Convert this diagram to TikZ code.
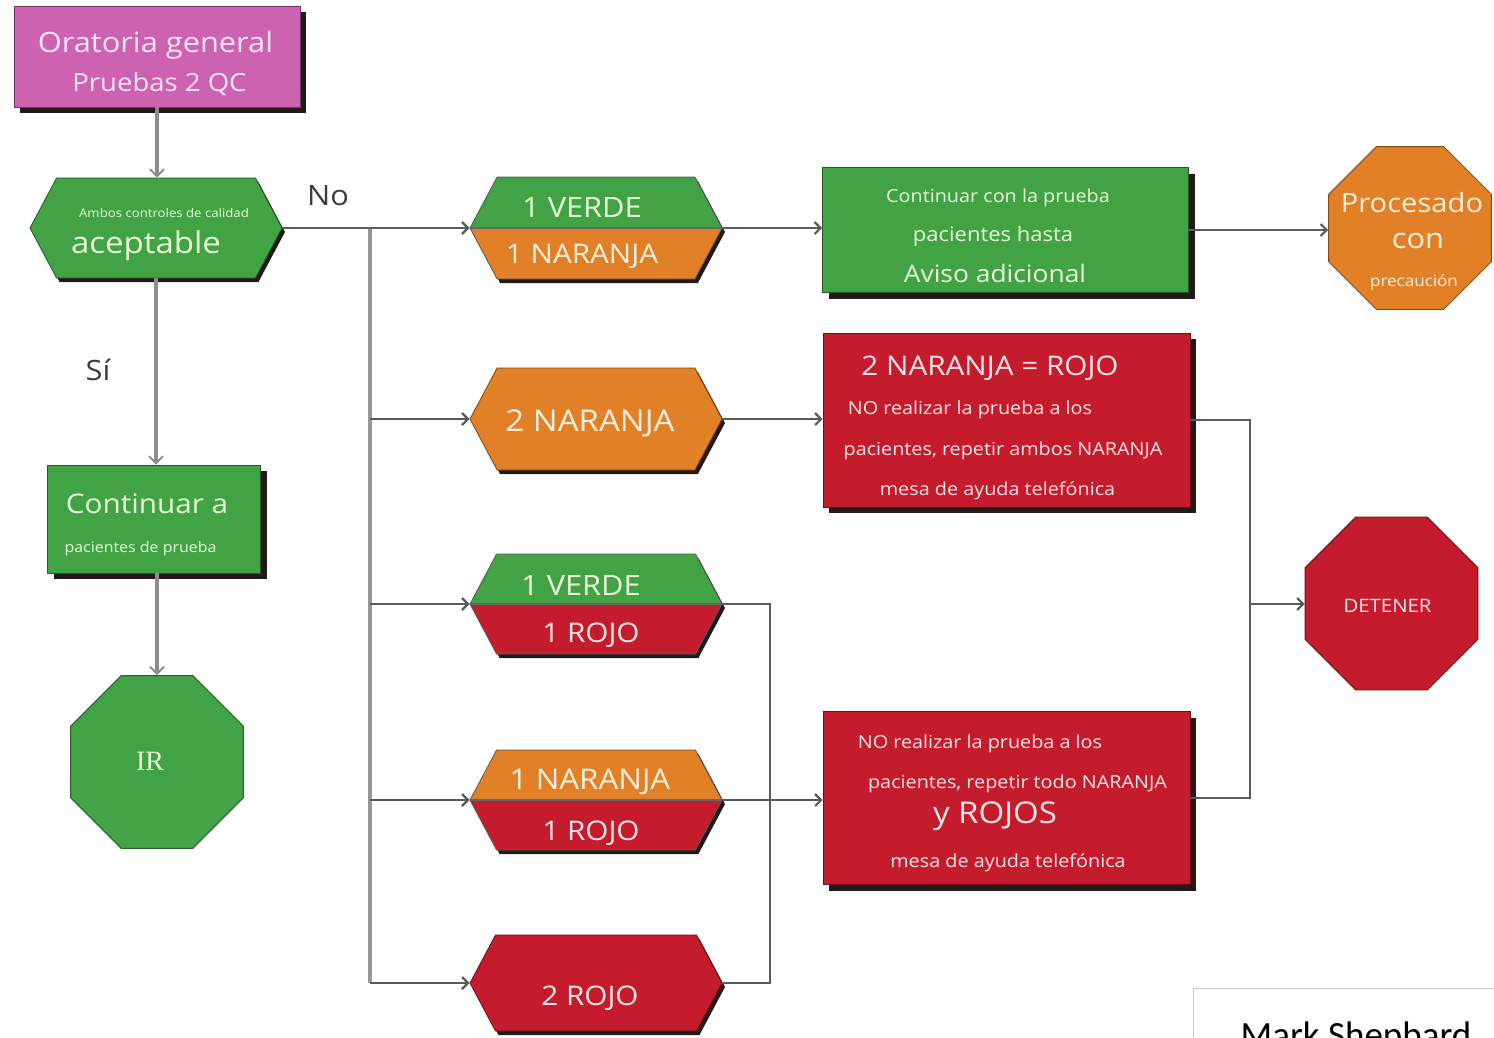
\documentclass[tikz,border=0pt]{standalone}
\usepackage{fontspec}
\setmainfont{Open Sans}[FakeStretch=1.1]
\newfontfamily\serifIR{Liberation Serif}
\newfontfamily\markfont{Carlito}
\usetikzlibrary{shapes.geometric,shapes.symbols,shadows,arrows.meta}
\definecolor{cpink}{RGB}{204,98,176}
\definecolor{cgreen}{RGB}{66,163,68}
\definecolor{corange}{RGB}{225,128,38}
\definecolor{cred}{RGB}{196,28,44}
\definecolor{shadc}{RGB}{35,25,25}
\definecolor{tgreen}{RGB}{232,250,215}
\definecolor{torange}{RGB}{255,240,222}
\definecolor{tred}{RGB}{255,228,232}
\definecolor{tpink}{RGB}{255,228,246}
\definecolor{lgray}{RGB}{140,140,140}
\definecolor{dgray}{RGB}{90,90,90}
\definecolor{lblgray}{RGB}{60,60,60}
\newcommand{\myfs}[1]{\fontsize{#1}{#1}\selectfont}
\begin{document}
\begin{tikzpicture}[x=1pt,y=-1pt,
  boxs/.style={rectangle, fill=#1, draw=#1!55!black, line width=0.8pt, inner sep=0pt,
    general shadow={fill=shadc, shadow xshift=6pt, shadow yshift=-6pt}},
  hexs/.style={signal, signal to=west and east, signal pointer angle=124,
    minimum width=252pt, minimum height=100pt, inner sep=0pt, line width=0.8pt,
    general shadow={fill=shadc, shadow xshift=3pt, shadow yshift=-4pt}},
  hexone/.style={hexs, fill=#1, draw=#1!55!black},
  hexsplit/.style 2 args={hexs, fill=#1, draw=black!65,
    path picture={\fill[#2] (path picture bounding box.west) rectangle (path picture bounding box.south east);
      \draw[black!60, line width=1.2pt] (path picture bounding box.west) -- (path picture bounding box.east);}},
  octs/.style={regular polygon, regular polygon sides=8, minimum size=187pt, inner sep=0pt,
    line width=1pt, fill=#1, draw=#1!60!black},
  tx/.style={inner sep=0pt, anchor=base, text=#1},
  vconn/.style={draw=lgray, line width=3.5pt, -{Straight Barb[length=7pt,width=14pt,line width=2pt]}},
  trunk/.style={draw=lgray!90, line width=4.5pt},
  conn/.style={draw=dgray, line width=2.2pt},
  arr/.style={conn, -{Straight Barb[length=6pt,width=12pt]}}
]
\useasboundingbox (0,0) rectangle (1494,1037);
\clip (0,0) rectangle (1494,1037);
\fill[white] (0,0) rectangle (1494,1037);

% shapes
\node[boxs=cpink, minimum width=286pt, minimum height=101pt] (pink) at (157,56.5) {};
\node[hexone=cgreen] (acc) at (156,228) {};
\node[boxs=cgreen, minimum width=213pt, minimum height=108pt] (cont) at (154,519) {};
\node[octs=cgreen] (ir) at (157,762) {};

\node[hexsplit={cgreen}{corange}, minimum height=102pt] (hex1) at (596,228) {};
\node[hexone=corange, minimum height=102pt] (hex2) at (596,419) {};
\node[hexsplit={cgreen}{cred}] (hex3) at (596,604) {};
\node[hexsplit={corange}{cred}] (hex4) at (596,800) {};
\node[hexone=cred, minimum height=96pt] (hex5) at (596,983) {};

\node[boxs=cgreen, minimum width=366pt, minimum height=125pt] (g2) at (1005.5,230) {};
\node[boxs=cred, minimum width=367pt, minimum height=174pt] (rb1) at (1006.5,420) {};
\node[boxs=cred, minimum width=367pt, minimum height=173pt] (rb2) at (1006.5,798) {};
\node[octs=corange, minimum size=176pt] (proc) at (1410,228) {};
\node[octs=cred] (det) at (1391.5,603.5) {};

% texts
\node[tx=tpink, font=\myfs{28}] (t1) at (155.5,52) {Oratoria general};
\node[tx=tpink, font=\myfs{25}] (t2) at (159.5,91) {Pruebas 2 QC};
\node[tx=tgreen, font=\myfs{12}] (t3) at (164,217) {Ambos controles de calidad};
\node[tx=tgreen, font=\myfs{30}] (t4) at (146,253) {aceptable};
\node[tx=lblgray, font=\myfs{28}] (t5) at (328,205) {No};
\node[tx=lblgray, font=\myfs{28}] (t6) at (98,380) {Sí};
\node[tx=tgreen, font=\myfs{27}] (t7) at (147,513) {Continuar a};
\node[tx=tgreen, font=\myfs{14.5}] (t8) at (140.5,552) {pacientes de prueba};
\node[tx=tgreen, font={\serifIR\myfs{28}}] (t9) at (150,770) {IR};

\node[tx=tgreen, font=\myfs{28}] (t10) at (582,217) {1 VERDE};
\node[tx=torange, font=\myfs{27}] (t11) at (582,263) {1 NARANJA};
\node[tx=torange, font=\myfs{30}] (t12) at (590,431) {2 NARANJA};
\node[tx=tgreen, font=\myfs{28}] (t13) at (581,595) {1 VERDE};
\node[tx=tred, font=\myfs{27}] (t14) at (591,642) {1 ROJO};
\node[tx=torange, font=\myfs{28.5}] (t15) at (590,789) {1 NARANJA};
\node[tx=tred, font=\myfs{27}] (t16) at (591,840) {1 ROJO};
\node[tx=tred, font=\myfs{27}] (t17) at (590,1005) {2 ROJO};

\node[tx=tgreen, font=\myfs{18}] (t18) at (998,202) {Continuar con la prueba};
\node[tx=tgreen, font=\myfs{20}] (t19) at (993,241) {pacientes hasta};
\node[tx=tgreen, font=\myfs{24}] (t20) at (995,282) {Aviso adicional};
\node[tx=torange, font=\myfs{26.5}] (t21) at (1412,212) {Procesado};
\node[tx=torange, font=\myfs{28}] (t22) at (1418,248) {con};
\node[tx=torange, font=\myfs{15.5}] (t23) at (1414,286) {precaución};

\node[tx=tred, font=\myfs{27}] (t24) at (990,375) {2 NARANJA = ROJO};
\node[tx=tred, font=\myfs{18}] (t25) at (970,414) {NO realizar la prueba a los};
\node[tx=tred, font=\myfs{18}] (t26) at (1003,455) {pacientes, repetir ambos NARANJA};
\node[tx=tred, font=\myfs{18}] (t27) at (997.5,495) {mesa de ayuda telefónica};

\node[tx=tred, font=\myfs{18}] (t28) at (980,748) {NO realizar la prueba a los};
\node[tx=tred, font=\myfs{18}] (t29) at (1017.5,788) {pacientes, repetir todo NARANJA};
\node[tx=tred, font=\myfs{30}] (t30) at (995,823) {y ROJOS};
\node[tx=tred, font=\myfs{18}] (t31) at (1008,867) {mesa de ayuda telefónica};
\node[tx=tred, font=\myfs{18.5}] (t32) at (1387.5,612) {DETENER};

% connectors
\draw[vconn] (pink.south) -- (pink.south |- acc.north);
\draw[vconn] (acc.south) -- (acc.south |- cont.north);
\draw[vconn] (ir.north |- cont.south) -- (ir.north);

\coordinate (jt) at (370,228);
\coordinate (jb) at (370,983);
\draw[trunk] (jt) -- (jb);
\draw[arr] (acc.east) -- (hex1.west);
\draw[arr] (jt |- hex2.west) -- (hex2.west);
\draw[arr] (jt |- hex3.west) -- (hex3.west);
\draw[arr] (jt |- hex4.west) -- (hex4.west);
\draw[arr] (jb) -- (hex5.west);

\draw[arr] (hex1.east) -- (hex1.east -| g2.west);
\draw[arr] (g2.east) -- (g2.east -| proc.west);
\draw[arr] (hex2.east) -- (hex2.east -| rb1.west);

\coordinate (jl) at (770,800);
\draw[conn] (hex3.east) -| (jl);
\draw[conn] (hex5.east) -| (jl);
\draw[arr] (hex4.east) -- (hex4.east -| rb2.west);

\coordinate (jr) at (1250,604);
\draw[conn] (rb1.east) -| (jr);
\draw[conn] (rb2.east) -| (jr);
\draw[arr] (jr) -- (jr -| det.west);

% signature box
\node[draw=gray!45, line width=1pt, minimum width=400pt, minimum height=200pt, anchor=north west] (mbox) at (1193,988) {};
\node[inner sep=0pt, anchor=base, font={\markfont\myfs{37}}] (mark) at (1356,1047) {Mark Shepbard};
\end{tikzpicture}
\end{document}
